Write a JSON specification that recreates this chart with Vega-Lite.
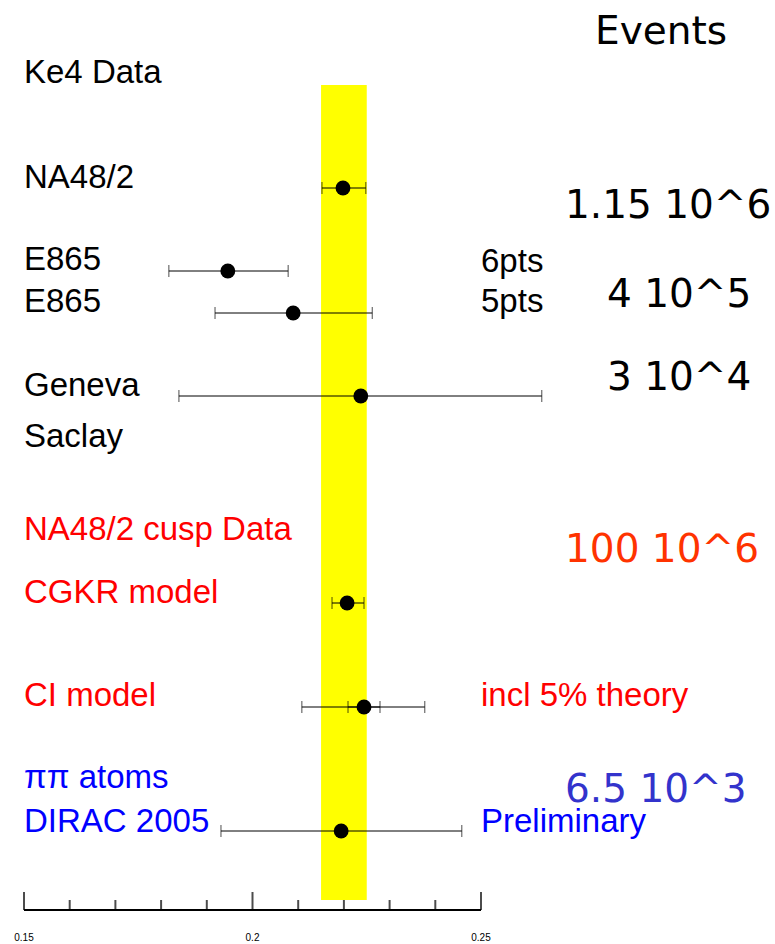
{
"$schema":"https://vega.github.io/schema/vega-lite/v6.json",
"width":775,"height":944,"padding":0,"autosize":"none",
"config":{"view":{"stroke":null},"font":"Liberation Sans"},
"datasets":{
"pts":[{"x":0.2198,"y":188},{"x":0.1946,"y":271},{"x":0.2089,"y":313},{"x":0.2237,"y":396},{"x":0.2207,"y":603},{"x":0.2244,"y":707},{"x":0.2194,"y":831}],
"bars":[{"lo":0.2152,"hi":0.2248,"y":188},{"lo":0.1817,"hi":0.2078,"y":271},{"lo":0.1918,"hi":0.2262,"y":313},{"lo":0.1839,"hi":0.2633,"y":396},{"lo":0.2174,"hi":0.2244,"y":603},{"lo":0.2108,"hi":0.2377,"y":707},{"lo":0.2209,"hi":0.2279,"y":707},{"lo":0.1931,"hi":0.2458,"y":831}],
"ticks":[{"x":0.15,"m":"major"},{"x":0.16,"m":"minor"},{"x":0.17,"m":"minor"},{"x":0.18,"m":"minor"},{"x":0.19,"m":"minor"},{"x":0.2,"m":"major"},{"x":0.21,"m":"minor"},{"x":0.22,"m":"minor"},{"x":0.23,"m":"minor"},{"x":0.24,"m":"minor"},{"x":0.25,"m":"major"}],
"left":[{"t":"Ke4 Data","x":0.15,"y":73,"g":"k"},{"t":"NA48/2","x":0.15,"y":178,"g":"k"},{"t":"E865","x":0.15,"y":260,"g":"k"},{"t":"E865","x":0.15,"y":302,"g":"k"},{"t":"Geneva","x":0.15,"y":386,"g":"k"},{"t":"Saclay","x":0.15,"y":437,"g":"k"},{"t":"NA48/2 cusp Data","x":0.15,"y":530,"g":"r"},{"t":"CGKR model","x":0.15,"y":593,"g":"r"},{"t":"CI model","x":0.15,"y":696,"g":"r"},{"t":"ππ  atoms","x":0.15,"y":778,"g":"b"},{"t":"DIRAC 2005","x":0.15,"y":822,"g":"b"},{"t":"6pts","x":0.25,"y":262,"g":"k"},{"t":"5pts","x":0.25,"y":302,"g":"k"},{"t":"incl 5% theory","x":0.25,"y":696,"g":"r"},{"t":"Preliminary","x":0.25,"y":822,"g":"b"}],
"big":[{"t":"Events","x":0.27495,"y":32,"g":"k"},{"t":"1.15 10^6","x":0.26838,"y":206,"g":"k"},{"t":"4 10^5","x":0.27757,"y":295,"g":"k"},{"t":"3 10^4","x":0.27757,"y":378,"g":"k"},{"t":"100 10^6","x":0.26838,"y":550,"g":"o"},{"t":"6.5 10^3","x":0.26838,"y":790,"g":"p"}],
"labels":[{"x":0.15,"t":"0.15"},{"x":0.2,"t":"0.2"},{"x":0.25,"t":"0.25"}],
"band":[{"lo":0.215,"hi":0.225,"y1":85,"y2":900}]
},
"layer":[
{"data":{"name":"band"},"mark":{"type":"rect","color":"#ffff00"},"encoding":{"x":{"field":"lo","type":"quantitative","scale":{"domain":[0.14475,0.31433],"nice":false,"zero":false},"axis":null},"x2":{"field":"hi"},"y":{"field":"y1","type":"quantitative","scale":{"domain":[944,0],"nice":false,"zero":false},"axis":null},"y2":{"field":"y2"}}},
{"data":{"name":"bars"},"mark":{"type":"rule","color":"black","strokeWidth":1},"encoding":{"x":{"field":"lo","type":"quantitative"},"x2":{"field":"hi"},"y":{"field":"y","type":"quantitative"}}},
{"data":{"name":"bars"},"transform":[{"fold":["lo","hi"],"as":["k","v"]}],"mark":{"type":"tick","orient":"vertical","color":"black","size":12,"thickness":1},"encoding":{"x":{"field":"v","type":"quantitative"},"y":{"field":"y","type":"quantitative"}}},
{"data":{"name":"pts"},"mark":{"type":"circle","color":"black","opacity":1,"size":220},"encoding":{"x":{"field":"x","type":"quantitative"},"y":{"field":"y","type":"quantitative"}}},
{"data":{"values":[{"a":0.15,"b":0.25,"y":910}]},"mark":{"type":"rule","color":"black","strokeWidth":2},"encoding":{"x":{"field":"a","type":"quantitative"},"x2":{"field":"b"},"y":{"field":"y","type":"quantitative"}}},
{"data":{"name":"ticks"},"transform":[{"filter":"datum.m=='major'"}],"mark":{"type":"tick","orient":"vertical","color":"black","size":18,"thickness":2,"yOffset":-9},"encoding":{"x":{"field":"x","type":"quantitative"},"y":{"datum":910,"type":"quantitative"}}},
{"data":{"name":"ticks"},"transform":[{"filter":"datum.m=='minor'"}],"mark":{"type":"tick","orient":"vertical","color":"black","size":10,"thickness":2,"yOffset":-5},"encoding":{"x":{"field":"x","type":"quantitative"},"y":{"datum":910,"type":"quantitative"}}},
{"data":{"name":"labels"},"mark":{"type":"text","fontSize":10,"align":"center","baseline":"middle"},"encoding":{"x":{"field":"x","type":"quantitative"},"y":{"datum":938,"type":"quantitative"},"text":{"field":"t"}}},
{"data":{"name":"left"},"mark":{"type":"text","fontSize":33,"align":"left","baseline":"middle"},"encoding":{"x":{"field":"x","type":"quantitative"},"y":{"field":"y","type":"quantitative"},"text":{"field":"t"},"color":{"field":"g","type":"nominal","scale":{"domain":["k","r","b","o","p"],"range":["#000000","#ff0000","#0000ff","#ff3300","#3333cc"]},"legend":null}}},
{"data":{"name":"big"},"mark":{"type":"text","fontSize":39,"font":"DejaVu Sans","align":"left","baseline":"middle"},"encoding":{"x":{"field":"x","type":"quantitative"},"y":{"field":"y","type":"quantitative"},"text":{"field":"t"},"color":{"field":"g","type":"nominal","legend":null}}}
]
}
